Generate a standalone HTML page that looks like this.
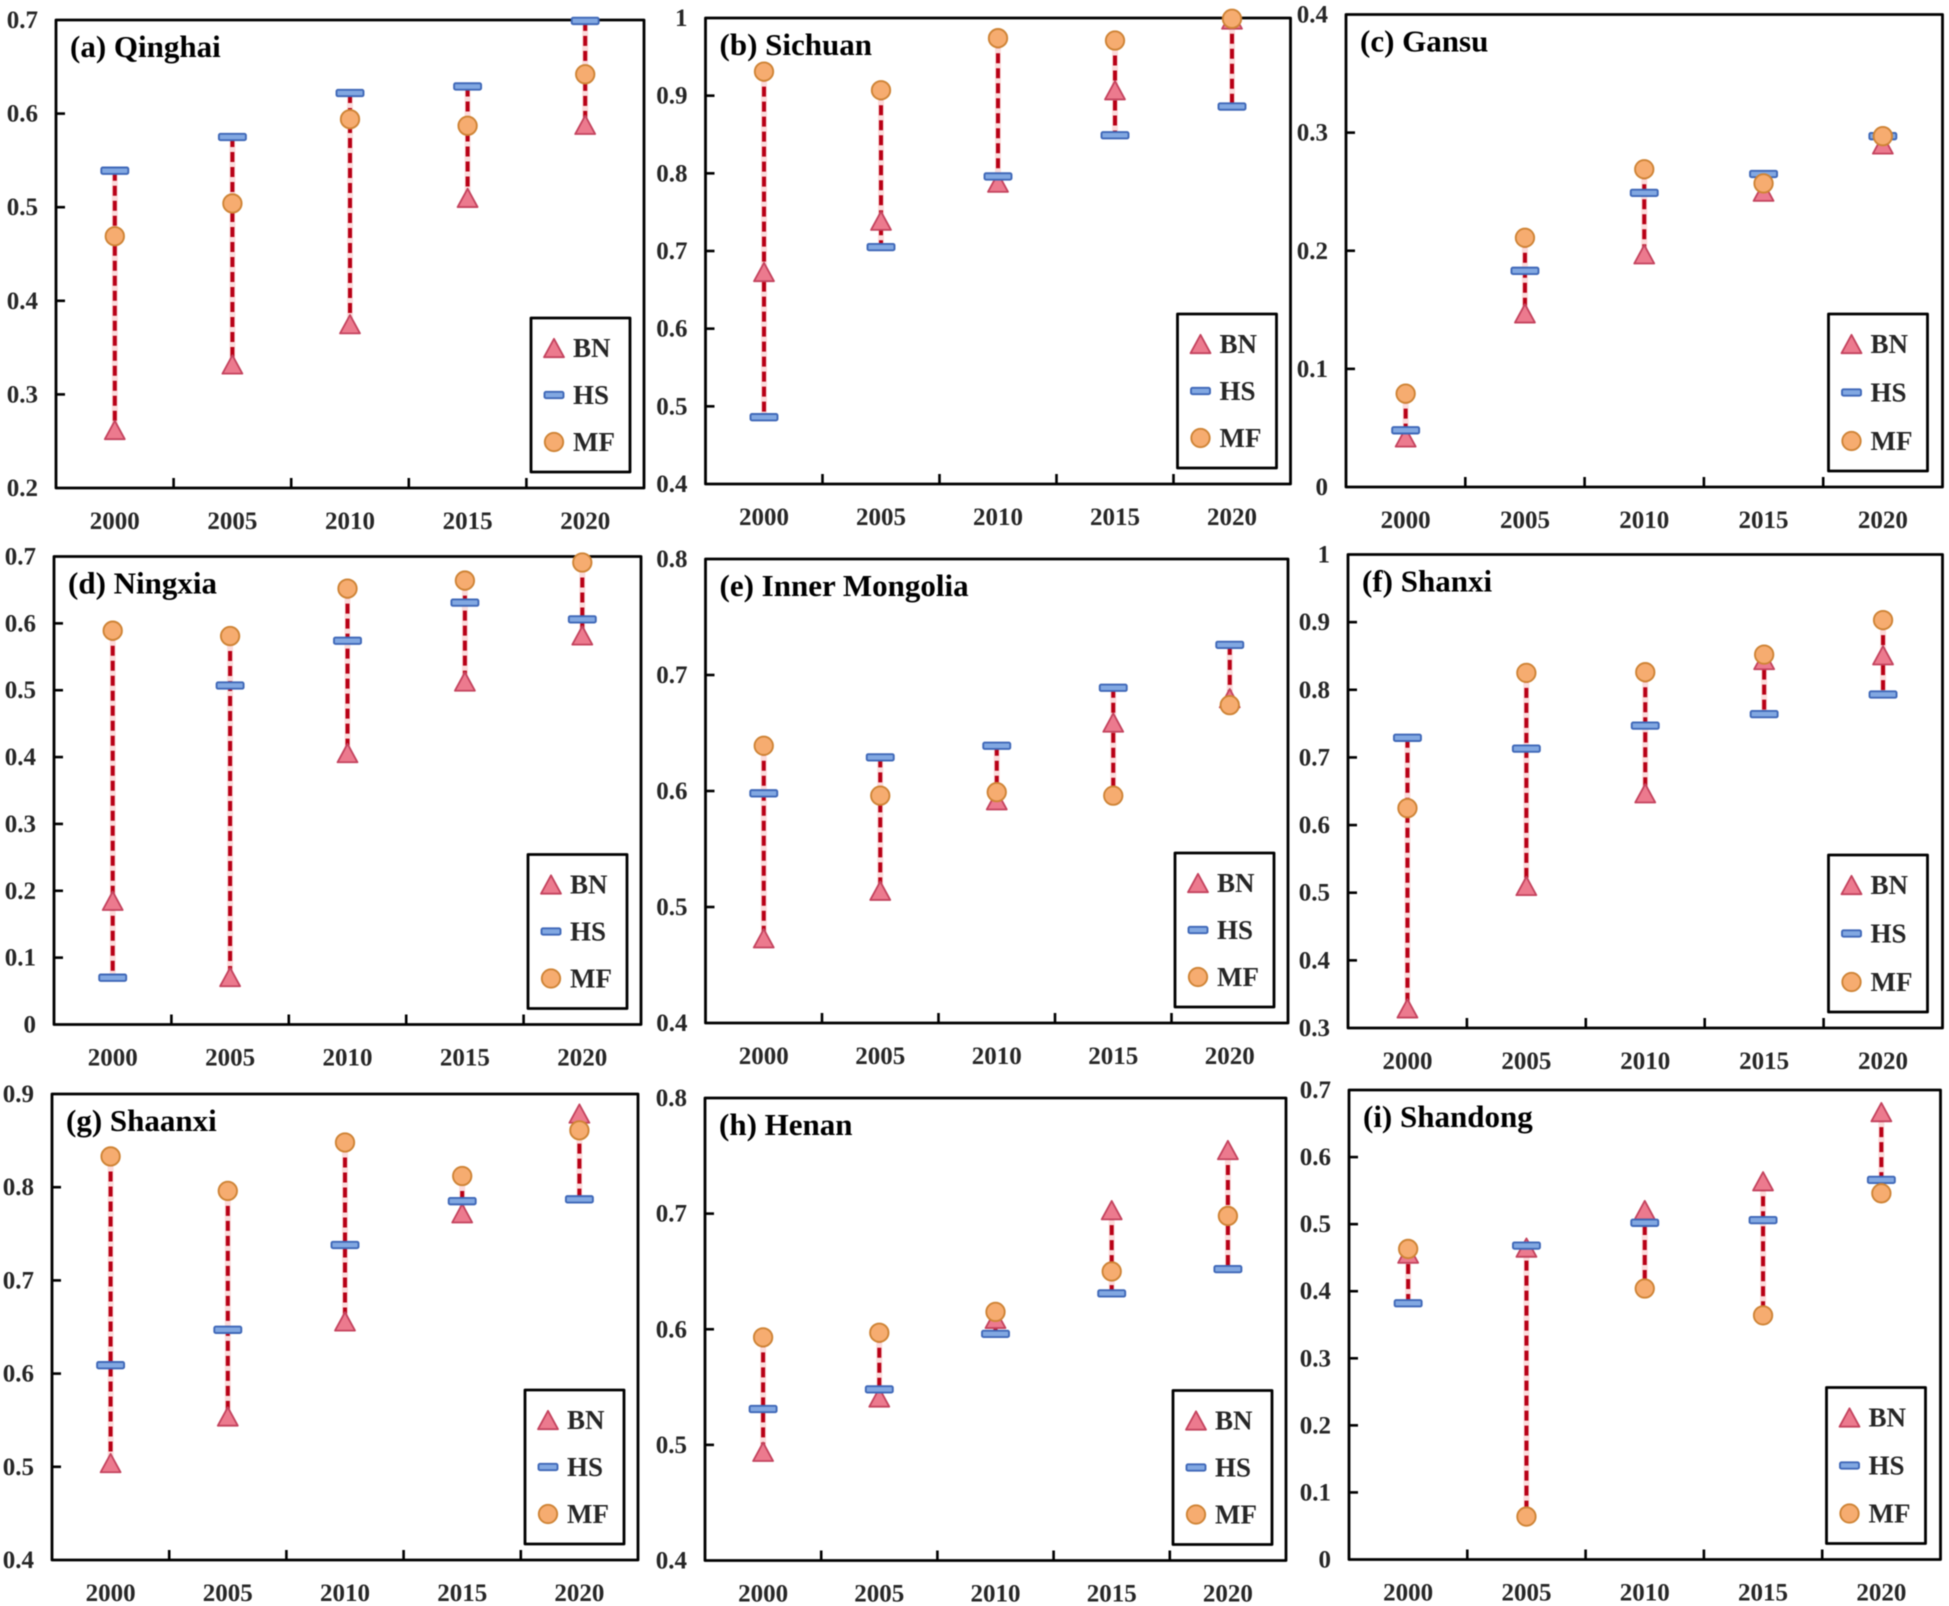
<!DOCTYPE html>
<html lang="en">
<head>
<meta charset="utf-8">
<title>BN, HS and MF by province, 2000-2020</title>
<style>
html,body{margin:0;padding:0;background:#fff;width:1949px;height:1606px;overflow:hidden}
svg{display:block;filter:blur(0.6px)}
text{font-family:"Liberation Serif",serif;font-weight:bold}
</style>
</head>
<body>
<svg id="chart" xmlns="http://www.w3.org/2000/svg" width="1949" height="1606" viewBox="0 0 1949 1606"></svg>
<script>
const years = ['2000','2005','2010','2015','2020'];
const legendNames = ['BN','HS','MF'];

const ticksA = ['0.2','0.3','0.4','0.5','0.6','0.7'];
const bnA = [0.262,0.332,0.375,0.510,0.588];
const hsA = [0.539,0.575,0.622,0.629,0.699];
const mfA = [0.469,0.504,0.594,0.587,0.642];

const ticksB = ['0.4','0.5','0.6','0.7','0.8','0.9','1'];
const bnB = [0.673,0.739,0.788,0.907,0.998];
const hsB = [0.486,0.705,0.796,0.849,0.886];
const mfB = [0.931,0.907,0.974,0.971,0.999];

const ticksC = ['0','0.1','0.2','0.3','0.4'];
const bnC = [0.042,0.147,0.197,0.250,0.290];
const hsC = [0.048,0.183,0.249,0.265,0.297];
const mfC = [0.079,0.211,0.269,0.257,0.297];

const ticksD = ['0','0.1','0.2','0.3','0.4','0.5','0.6','0.7'];
const bnD = [0.185,0.071,0.406,0.513,0.582];
const hsD = [0.070,0.507,0.574,0.631,0.606];
const mfD = [0.589,0.581,0.652,0.664,0.691];

const ticksE = ['0.4','0.5','0.6','0.7','0.8'];
const bnE = [0.473,0.514,0.592,0.659,0.680];
const hsE = [0.598,0.629,0.639,0.689,0.726];
const mfE = [0.639,0.596,0.599,0.596,0.674];

const ticksF = ['0.3','0.4','0.5','0.6','0.7','0.8','0.9','1'];
const bnF = [0.329,0.510,0.647,0.844,0.851];
const hsF = [0.729,0.713,0.747,0.764,0.793];
const mfF = [0.625,0.825,0.826,0.852,0.903];

const ticksG = ['0.4','0.5','0.6','0.7','0.8','0.9'];
const bnG = [0.504,0.554,0.656,0.772,0.879];
const hsG = [0.609,0.647,0.738,0.785,0.787];
const mfG = [0.833,0.796,0.848,0.812,0.861];

const ticksH = ['0.4','0.5','0.6','0.7','0.8'];
const bnH = [0.494,0.541,0.609,0.703,0.755];
const hsH = [0.531,0.548,0.596,0.631,0.652];
const mfH = [0.593,0.597,0.615,0.650,0.698];

const ticksI = ['0','0.1','0.2','0.3','0.4','0.5','0.6','0.7'];
const bnI = [0.456,0.465,0.521,0.564,0.667];
const hsI = [0.382,0.468,0.502,0.506,0.566];
const mfI = [0.463,0.064,0.404,0.364,0.546];

const NS = 'http://www.w3.org/2000/svg';
const root = document.getElementById('chart');

function make(parent, tag, props) {
  const node = document.createElementNS(NS, tag);
  for (const k in props) node.setAttribute(k, props[k]);
  parent.appendChild(node);
  return node;
}

function drawBN(parent, x, y) {
  const w = 10, h = 9.2;
  const el = make(parent, 'polygon', {
    points: (x-w)+','+(y+h)+' '+(x+w)+','+(y+h)+' '+x+','+(y-h),
    fill: '#ec7a8e', stroke: '#c4435e', 'stroke-width': 1.8, 'stroke-linejoin': 'round'
  });
  
  
}
function drawHS(parent, x, y, w) {
  const el = make(parent, 'rect', {
    x: x-w/2, y: y-3.2, width: w, height: 6.4, rx: 1.5,
    fill: '#82a8e2', stroke: '#3f68b8', 'stroke-width': 1.9
  });
  
  
}
function drawMF(parent, x, y) {
  const el = make(parent, 'circle', {
    cx: x, cy: y, r: 9.2,
    fill: '#f6ac70', stroke: '#cf8436', 'stroke-width': 1.9
  });
  
  
}

function drawPanel(id, title, left, right, top, bottom, ticks, bn, hs, mf, legendRight, legendHeight) {
  const g = make(root, 'g', {});
  
  

  const yMin = parseFloat(ticks[0]);
  const yMax = parseFloat(ticks[ticks.length - 1]);
  const yScale = v => bottom - (v - yMin) / (yMax - yMin) * (bottom - top);
  const band = (right - left) / years.length;
  const xScale = i => left + band * (i + 0.5);

  const frame = make(g, 'rect', {
    x: left, y: top, width: right - left, height: bottom - top,
    fill: '#fff', stroke: '#000', 'stroke-width': 2.8, 'stroke-linejoin': 'round'
  });
  
  

  ticks.forEach(label => {
    const v = parseFloat(label);
    const y = yScale(v);
    if (v !== yMin && v !== yMax) {
      const tick = make(g, 'line', {
        x1: left, x2: left + 9, y1: y, y2: y, stroke: '#000', 'stroke-width': 2.6
      });
      
      
    }
    const t = make(g, 'text', {
      x: left - 18, y: y + 8, 'text-anchor': 'end', 'font-size': 25, fill: '#262626'
    });
    t.textContent = label;
    
    
  });

  years.forEach((label, i) => {
    if (i > 0) {
      const x = left + band * i;
      const tick = make(g, 'line', {
        x1: x, x2: x, y1: bottom, y2: bottom - 10, stroke: '#000', 'stroke-width': 2.6
      });
      
      
    }
    const t = make(g, 'text', {
      x: xScale(i), y: bottom + 41, 'text-anchor': 'middle', 'font-size': 25, fill: '#262626'
    });
    t.textContent = label;
    
    
  });

  const heading = make(g, 'text', {
    x: left + 14, y: top + 37, 'font-size': 31, fill: '#000'
  });
  heading.textContent = title;
  
  

  years.forEach((label, i) => {
    const x = xScale(i);
    const lo = Math.min(bn[i], hs[i], mf[i]);
    const hi = Math.max(bn[i], hs[i], mf[i]);
    const halo = make(g, 'line', {
      x1: x, x2: x, y1: yScale(hi), y2: yScale(lo), stroke: '#fbdcdc', 'stroke-width': 6
    });
    
    
    const range = make(g, 'line', {
      x1: x, x2: x, y1: yScale(hi), y2: yScale(lo),
      stroke: '#b80016', 'stroke-width': 4, 'stroke-dasharray': '10 5'
    });
    
    
    drawBN(g, x, yScale(bn[i]));
    drawHS(g, x, yScale(hs[i]), 27);
    drawMF(g, x, yScale(mf[i]));
  });

  const lx = right - legendRight - 99;
  const ly = bottom - 16 - legendHeight;
  const rowGap = (legendHeight - 60) / 2;
  const legend = make(g, 'g', {});
  
  
  const box = make(legend, 'rect', {
    x: lx, y: ly, width: 99, height: legendHeight, fill: '#fff', stroke: '#000',
    'stroke-width': 2.8, 'stroke-linejoin': 'round'
  });
  
  
  legendNames.forEach((name, i) => {
    const cy = ly + 30 + i * rowGap;
    const cx = lx + 23;
    if (name === 'BN') drawBN(legend, cx, cy);
    if (name === 'HS') drawHS(legend, cx, cy, 19);
    if (name === 'MF') drawMF(legend, cx, cy);
    const t = make(legend, 'text', {
      x: lx + 42, y: cy + 9, 'font-size': 27, fill: '#262626'
    });
    t.textContent = name;
    
    
  });
}

drawPanel('a', '(a) Qinghai',        56,  644,  20,  488, ticksA, bnA, hsA, mfA, 14, 154);
drawPanel('b', '(b) Sichuan',        705.5, 1290.5, 18, 484, ticksB, bnB, hsB, mfB, 14, 154);
drawPanel('c', '(c) Gansu',          1346, 1942.5, 14.5, 487, ticksC, bnC, hsC, mfC, 15, 157);
drawPanel('d', '(d) Ningxia',        54,  641,  556.5, 1024.5, ticksD, bnD, hsD, mfD, 14, 154);
drawPanel('e', '(e) Inner Mongolia', 705.5, 1288, 559, 1023, ticksE, bnE, hsE, mfE, 14, 154);
drawPanel('f', '(f) Shanxi',         1348, 1942.5, 554.5, 1028, ticksF, bnF, hsF, mfF, 15, 157);
drawPanel('g', '(g) Shaanxi',        52,  638,  1094, 1560, ticksG, bnG, hsG, mfG, 14, 154);
drawPanel('h', '(h) Henan',          705, 1286, 1098, 1560.5, ticksH, bnH, hsH, mfH, 14, 154);
drawPanel('i', '(i) Shandong',       1349, 1940.5, 1090, 1559.5, ticksI, bnI, hsI, mfI, 15, 156);
</script>
</body>
</html>
